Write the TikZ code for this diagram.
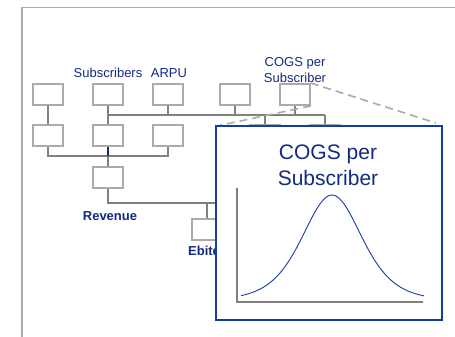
\documentclass[tikz,border=0pt]{standalone}
\usepackage{fontspec}
\setmainfont{Liberation Sans}
\definecolor{boxgray}{RGB}{170,170,170}
\definecolor{linegray}{RGB}{128,128,128}
\definecolor{navy}{RGB}{20,42,128}
\definecolor{zoomblue}{RGB}{20,60,165}
\begin{document}
\begin{tikzpicture}[x=1pt,y=1pt,
    leaf/.style={draw=boxgray,line width=1.8pt,fill=white,minimum width=30pt,minimum height=21pt,inner sep=0pt},
    conn/.style={draw=linegray,line width=1.6pt},
    lbl/.style={text=navy,font=\fontsize{13}{16}\selectfont,inner sep=0pt,align=center},
    blbl/.style={text=navy,font=\fontsize{13}{16}\selectfont\bfseries,inner sep=0pt}]
        \useasboundingbox (0,0) rectangle (455,337);
        % frame
        \draw[boxgray,line width=1.5pt] (22,0) -- (22,329.5) -- (455,329.5);

        % tree of boxes
        \node[leaf] (B11) at (48,242.5) {};
        \node[leaf] (B12) at (108,242.5) {};
        \node[leaf] (B13) at (168,242.5) {};
        \node[leaf] (B14) at (235,242.5) {};
        \node[leaf] (B15) at (295,242.5) {};
        \node[leaf] (B21) at (48,201.5) {};
        \node[leaf] (B22) at (108,201.5) {};
        \node[leaf] (B23) at (168,201.5) {};
        \node[leaf] (B24) at (265,201.5) {};
        \node[leaf] (B25) at (325,201.5) {};
        \node[leaf] (Rev) at (108,159.5) {};
        \node[leaf] (Ebit) at (207,107.5) {};

        \coordinate (busA) at (108,222);
        \coordinate (busB) at (325,222);
        \coordinate (busC) at (108,181);
        \coordinate (busD) at (225,134);

        \draw[conn] (B11) -- (B21);
        \draw[conn] (B12) -- (B22);
        \draw[conn] (busA) -- (busB);
        \draw[conn] (B13.south) -- (B13.south |- busA);
        \draw[conn] (B14.south) -- (B14.south |- busA);
        \draw[conn] (B15.south) -- (B15.south |- busA);
        \draw[conn] (B24.north) -- (B24.north |- busA);
        \draw[conn] (B25.north) -- (busB);
        \draw[conn] (B21.south) |- (busC) -| (B23.south);
        \draw[navy,line width=1.6pt] (B22.south) -- (busC);
        \draw[conn] (busC) -- (Rev.north);
        \draw[conn] (Rev.south) |- (busD);
        \draw[conn] (Ebit.north) -- (Ebit.north |- busD);

        % labels
        \node[lbl] (LSub) at (108,264) {Subscribers};
        \node[lbl] (LArpu) at (169,264) {ARPU};
        \node[lbl] (LCogs) at (295,267) {COGS per\\Subscriber};
        \node[blbl] (LRev) at (110,121) {Revenue};
        \node[blbl] (LEbit) at (208,86) {Ebitda};

        % zoom box
        \draw[boxgray,line width=1.6pt,dash pattern=on 8pt off 5pt] (B15.north east) -- (436,214);
        \draw[boxgray,line width=1.6pt,dash pattern=on 8pt off 5pt] (B15.south east) -- (217,211);
        \node[draw=zoomblue,line width=2pt,fill=white,minimum width=226pt,minimum height=194pt,inner sep=0pt] (Zoom) at (329,114) {};
        \node[text=navy,font=\fontsize{21}{26}\selectfont,align=center,inner sep=0pt] (ZTitle) at (328,172) {COGS per\\Subscriber};

        % distribution
        \coordinate (Org) at (237,35);
        \draw[linegray,line width=1.1pt] (237,149) -- (Org) -- (423,35);
        \draw[zoomblue,line width=0.9pt] plot[domain=241:424,samples=90,smooth] (\x,{37+105/(cosh((\x-332)/40)^2)});
    \end{tikzpicture}
\end{document}
